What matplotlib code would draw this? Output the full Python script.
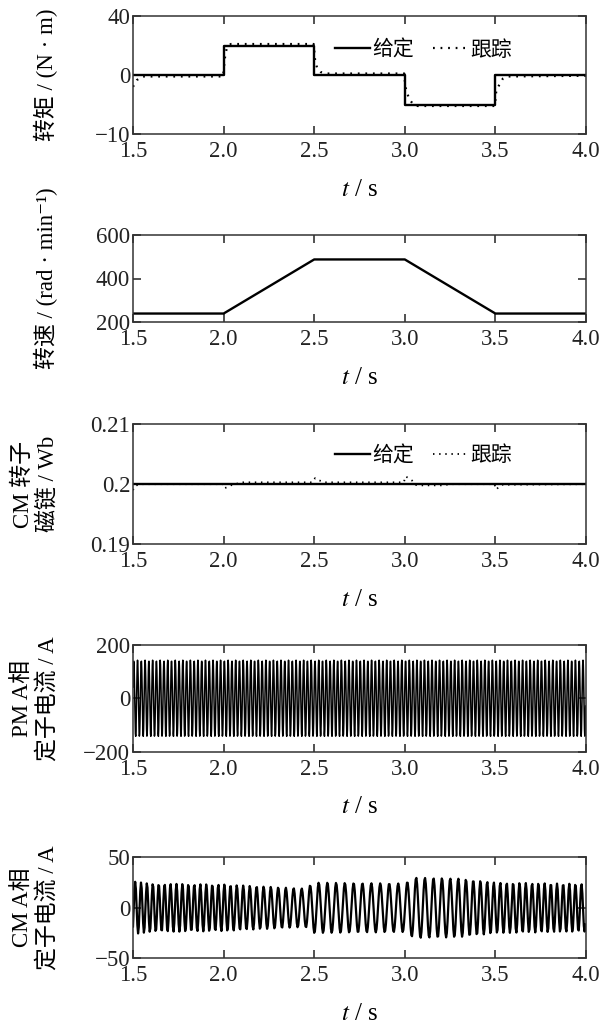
import numpy as np
import matplotlib
matplotlib.use("Agg")
import matplotlib.pyplot as plt

plt.rcParams['font.family'] = ['Liberation Serif', 'Noto Sans CJK SC', 'DejaVu Sans']
plt.rcParams['mathtext.fontset'] = 'stix'

# ---------------- data ----------------
x_ticks = [1.5, 2.0, 2.5, 3.0, 3.5, 4.0]
x_ticklabels = ["1.5", "2.0", "2.5", "3.0", "3.5", "4.0"]

# torque (given, step) and tracking
torque_given_t = [1.5, 2.0, 2.5, 3.0, 3.5, 4.0]
torque_given_v = [0, 20, 0, -20, 0, 0]
torque_track_t = [1.500, 1.521, 1.550, 1.997, 2.003, 2.010, 2.020, 2.040, 2.497,
                  2.505, 2.517, 2.536, 2.560, 2.997, 3.003, 3.023, 3.044, 3.070,
                  3.497, 3.505, 3.520, 3.541, 3.570, 4.000]
torque_track_v = [-8, -3.5, -1, -1, 6.5, 14.5, 19, 21, 21,
                  10, 4.3, 2, 1, 1, -8, -16, -19.5, -21,
                  -21, -10.4, -7, -2.5, -1, -0.5]
torque_yticks = [-40, 0, 40]
torque_yticklabels = ["\u221210", "0", "40"]

# speed
speed_t = [1.5, 2.0, 2.5, 3.0, 3.5, 4.0]
speed_v = [240, 240, 487, 487, 240, 240]
speed_yticks = [200, 400, 600]

# CM rotor flux
flux_given_t = [1.5, 4.0]
flux_given_v = [0.2, 0.2]
flux_track_t = [1.500, 1.507, 1.520, 1.540, 1.995, 2.003, 2.020, 2.040, 2.100,
                2.490, 2.505, 2.520, 2.540, 2.560, 2.995, 3.003, 3.015, 3.040,
                3.060, 3.080, 3.200, 3.260, 3.495, 3.500, 3.505, 3.520, 3.540, 4.000]
flux_track_v = [0.1990, 0.1996, 0.1998, 0.2000, 0.2000, 0.1993, 0.1995, 0.1998, 0.2003,
                0.2003, 0.2010, 0.2007, 0.2005, 0.2003, 0.2003, 0.2013, 0.2011, 0.2006,
                0.1999, 0.1998, 0.1998, 0.2000, 0.2000, 0.1995, 0.1991, 0.1996, 0.1999, 0.2000]
flux_yticks = [0.19, 0.2, 0.21]
flux_yticklabels = ["0.19", "0.2", "0.21"]

# PM phase-A stator current (amplitude / frequency)
pm_amp = 143.0
pm_freq = 48.0
pm_yticks = [-200, 0, 200]

# CM phase-A stator current: amplitude & frequency read at knots
cm_amp_t = [1.5, 1.6, 2.0, 2.45, 2.5, 3.0, 3.05, 3.3, 3.5, 4.0]
cm_amp_v = [26, 24, 23, 19, 25, 24, 30, 29, 25, 23.5]
cm_freq_t = [1.5, 2.0, 2.25, 2.5, 3.0, 3.25, 3.5, 4.0]
cm_freq_v = [31, 30, 25, 21, 20, 22, 28, 30]
cm_yticks = [-50, 0, 50]

# ---------------- figure ----------------
fig = plt.figure(figsize=(6.02, 10.25), dpi=100)
W, H = 602.0, 1025.0
left, right = 133, 586
boxes = [(16, 134), (234.7, 322.3), (424, 544.3), (645, 751.7), (857.3, 958.3)]
axes = []
for top, bot in boxes:
    ax = fig.add_axes([left / W, 1 - bot / H, (right - left) / W, (bot - top) / H])
    axes.append(ax)

tick_fs = 16.5
for ax in axes:
    ax.set_xlim(1.5, 4.0)
    ax.set_xticks(x_ticks)
    ax.set_xticklabels(x_ticklabels)
    ax.tick_params(direction='in', length=6, width=1.1, top=True, right=True,
                   labelsize=tick_fs, colors='#222222')
    ax.tick_params(axis='x', pad=5)
    ax.tick_params(axis='y', pad=2)
    for s in ax.spines.values():
        s.set_linewidth(1.1)
        s.set_color('#333333')
    ax.set_xlabel("$t$ / s", fontsize=18, labelpad=12)

lw = 1.7
lab_fs = 16.5
# panel 1
ax = axes[0]
ax.plot(torque_given_t, torque_given_v, color='black', lw=lw, drawstyle='steps-post', label='给定')
ax.plot(torque_track_t, torque_track_v, color='black', lw=1.6, dashes=(0.8, 2.6), label='跟踪')
ax.set_ylim(-40, 40)
ax.set_yticks(torque_yticks)
ax.set_yticklabels(torque_yticklabels)
ax.set_ylabel("转矩 / (N · m)", fontsize=lab_fs)
ax.legend(loc='upper right', bbox_to_anchor=(0.86, 0.88), frameon=False, ncol=2,
          handlelength=1.7, handletextpad=0.1, columnspacing=0.9, fontsize=15, borderpad=0)

# panel 2
ax = axes[1]
ax.plot(speed_t, speed_v, color='black', lw=lw)
ax.set_ylim(200, 600)
ax.set_yticks(speed_yticks)
ax.set_ylabel("转速 / (rad · min\u207b\u00b9)", fontsize=lab_fs)

# panel 3
ax = axes[2]
ax.plot(flux_given_t, flux_given_v, color='black', lw=lw, label='给定')
ax.plot(flux_track_t, flux_track_v, color='black', lw=1.3, dashes=(0.8, 2.6), label='跟踪')
ax.set_ylim(0.19, 0.21)
ax.set_yticks(flux_yticks)
ax.set_yticklabels(flux_yticklabels)
ax.set_ylabel("CM 转子\n磁链 / Wb", fontsize=lab_fs, linespacing=1.15)
ax.legend(loc='upper right', bbox_to_anchor=(0.86, 0.9), frameon=False, ncol=2,
          handlelength=1.7, handletextpad=0.1, columnspacing=0.9, fontsize=15, borderpad=0)

# panel 4
ax = axes[3]
fs_pm = 600
t = np.arange(1.5, 4.0, 1.0 / fs_pm)
ax.plot(t, pm_amp * np.sin(2 * np.pi * pm_freq * (t - 1.5) + 0.3), color='black', lw=1.1)
ax.set_ylim(-200, 200)
ax.set_yticks(pm_yticks)
ax.set_ylabel("PM A相\n定子电流 / A", fontsize=lab_fs, linespacing=1.15)

# panel 5
ax = axes[4]
fs_cm = 250
tc = np.arange(1.5, 4.0, 1.0 / fs_cm)
f_c = np.interp(tc, cm_freq_t, cm_freq_v)
a_c = np.interp(tc, cm_amp_t, cm_amp_v)
phase = 2 * np.pi * np.cumsum(f_c) / fs_cm
ax.plot(tc, -a_c * np.cos(phase), color='black', lw=1.6)
ax.set_ylim(-50, 50)
ax.set_yticks(cm_yticks)
ax.set_ylabel("CM A相\n定子电流 / A", fontsize=lab_fs, linespacing=1.15)

for ax in axes:
    ax.yaxis.set_label_coords(-0.165, 0.5)

fig.savefig("out.png", dpi=100)
